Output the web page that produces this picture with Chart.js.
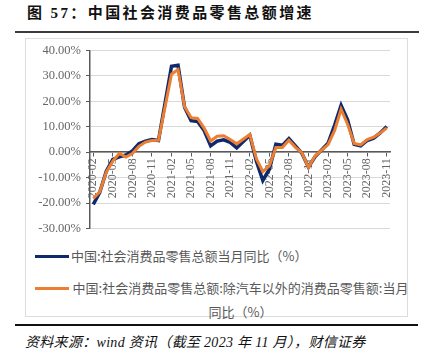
<!DOCTYPE html>
<html>
<head>
<meta charset="utf-8">
<script src="https://cdn.jsdelivr.net/npm/chart.js@4.4.1/dist/chart.umd.min.js"></script>
<style>
  html, body { margin: 0; padding: 0; background: #fff; }
  body { width: 432px; height: 357px; position: relative; overflow: hidden; }
  #title { position: absolute; left: 27px; top: 1px; font: bold 15px "Liberation Serif", "Noto Sans CJK SC", serif; letter-spacing: 2.4px; color: #111; white-space: nowrap; }
  #rule1 { position: absolute; left: 15px; top: 31px; width: 404px; height: 2px; background: #3a3a3a; }
  #box { position: absolute; left: 25px; top: 38px; width: 383px; height: 279px; border: 1px solid #dcdcdc; box-sizing: border-box; }
  #wrap { position: absolute; left: 25px; top: 38px; width: 383px; height: 203px; }
  #legend { position: absolute; left: 35px; top: 244px; width: 375px; }
  .item { display: flex; align-items: flex-start; margin-bottom: 8px; }
  .swatch { width: 34px; height: 3px; margin-top: 11px; flex: none; }
  .txt { font: 13px "Noto Sans CJK SC", sans-serif; line-height: 24px; color: #595959; text-align: center; max-width: 340px; margin-left: 2px; }
  #rule2 { position: absolute; left: 15px; top: 324px; width: 403px; height: 2px; background: #111; }
  #source { position: absolute; left: 25px; top: 331px; font: italic 14px "Liberation Serif", "Noto Sans CJK SC", serif; letter-spacing: 0.3px; color: #111; white-space: nowrap; }
</style>
</head>
<body>
<div id="title">图 57：中国社会消费品零售总额增速</div>
<div id="rule1"></div>
<div id="box"></div>
<div id="wrap"><canvas id="c" width="383" height="203"></canvas></div>
<div id="legend"></div>
<div id="rule2"></div>
<div id="source">资料来源：wind 资讯（截至 2023 年 11 月），财信证券</div>
<script>
const months = [
  "2020-02","2020-03","2020-04","2020-05","2020-06","2020-07","2020-08","2020-09","2020-10","2020-11","2020-12",
  "2021-01","2021-02","2021-03","2021-04","2021-05","2021-06","2021-07","2021-08","2021-09","2021-10","2021-11","2021-12",
  "2022-01","2022-02","2022-03","2022-04","2022-05","2022-06","2022-07","2022-08","2022-09","2022-10","2022-11","2022-12",
  "2023-01","2023-02","2023-03","2023-04","2023-05","2023-06","2023-07","2023-08","2023-09","2023-10","2023-11"
];
const totalYoY = [
  -20.5,-15.8,-7.5,-2.8,-1.8,-1.1,0.5,3.3,4.3,5.0,4.6,
  null,33.8,34.2,17.7,12.4,12.1,8.5,2.5,4.4,4.9,3.9,1.7,
  null,6.7,-3.5,-11.1,-6.7,3.1,2.7,5.4,2.5,-0.5,-5.9,-1.8,
  null,3.5,10.6,18.4,12.7,3.1,2.5,4.6,5.5,7.6,10.1
];
const exAutoYoY = [
  -18.2,-15.6,-7.8,-3.5,-0.5,-1.9,-0.5,2.3,4.0,4.6,4.7,
  null,30.7,32.5,17.9,13.6,13.3,9.5,4.4,6.3,6.5,5.0,3.3,
  null,7.0,-2.5,-7.6,-5.4,1.9,1.9,4.7,1.9,-0.3,-6.0,-1.5,
  null,3.0,8.5,16.9,11.0,3.4,2.9,5.0,5.9,7.5,9.6
];
const seriesNames = [
  "中国:社会消费品零售总额当月同比（%）",
  "中国:社会消费品零售总额:除汽车以外的消费品零售额:当月同比（%）"
];
const seriesColors = ["#0e2a6c", "#ed7d31"];
const yTicks = [-30, -20, -10, 0, 10, 20, 30, 40];

const axisColor = "#595959";
const chart = new Chart(document.getElementById("c"), {
  type: "line",
  data: {
    labels: months,
    datasets: [
      { label: seriesNames[0], data: totalYoY, borderColor: seriesColors[0], backgroundColor: seriesColors[0],
        borderWidth: 3.5, pointRadius: 0, tension: 0, spanGaps: true, order: 1 },
      { label: seriesNames[1], data: exAutoYoY, borderColor: seriesColors[1], backgroundColor: seriesColors[1],
        borderWidth: 3, pointRadius: 0, tension: 0, spanGaps: true, order: 0 }
    ]
  },
  options: {
    responsive: false,
    devicePixelRatio: 1,
    animation: false,
    layout: { padding: { top: 8, right: 18, bottom: 8, left: 0 } },
    plugins: { legend: { display: false }, tooltip: { enabled: false } },
    scales: {
      x: {
        type: "category",
        offset: true,
        position: { y: 0 },
        grid: { drawOnChartArea: false, drawTicks: true, tickLength: 4, tickColor: axisColor, tickWidth: 1 },
        border: { color: axisColor, width: 1.5 },
        ticks: {
          autoSkip: false, minRotation: 90, maxRotation: 90, padding: 2,
          color: "#666", font: { family: "Liberation Serif", size: 12 },
          callback: (v, i) => (i % 3 === 0 ? months[i] : null)
        },
        afterFit: s => { s.height = 0; }
      },
      y: {
        min: yTicks[0], max: yTicks[yTicks.length - 1],
        afterBuildTicks: s => { s.ticks = yTicks.map(v => ({ value: v })); },
        grid: { color: "#d9d9d9", lineWidth: 1, drawTicks: true, tickLength: 4, tickColor: axisColor },
        border: { color: axisColor, width: 1.5 },
        ticks: {
          padding: 5, color: "#666", font: { family: "Liberation Serif", size: 12.5 },
          callback: v => v.toFixed(2) + "%"
        },
        afterFit: s => { s.width = 65; }
      }
    }
  }
});

const leg = document.getElementById("legend");
chart.data.datasets.forEach(ds => {
  const item = document.createElement("div");
  item.className = "item";
  const sw = document.createElement("div");
  sw.className = "swatch";
  sw.style.background = ds.borderColor;
  const t = document.createElement("div");
  t.className = "txt";
  t.textContent = ds.label;
  item.appendChild(sw);
  item.appendChild(t);
  leg.appendChild(item);
});
</script>
</body>
</html>
